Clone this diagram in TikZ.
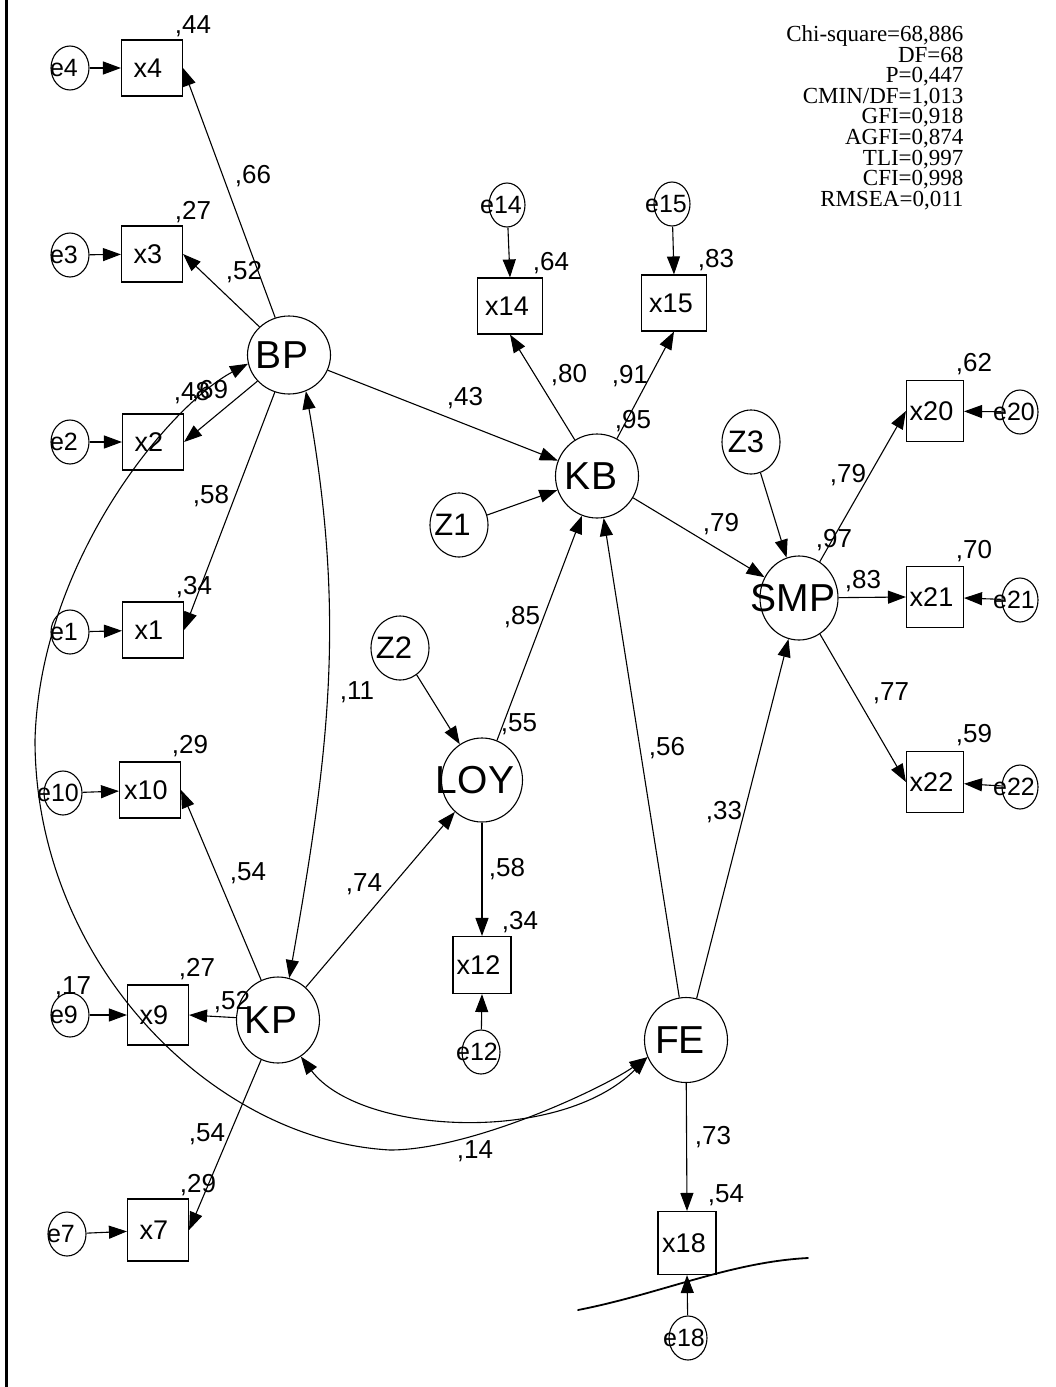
\documentclass[tikz,border=0pt]{standalone}
\usepackage{fontspec}
\setmainfont{Liberation Sans}
\newfontfamily\fitfont{Liberation Serif}
\usetikzlibrary{arrows.meta,shapes.geometric}

% centred label whose text sits #1/2 pt left of the node centre
\newcommand\ctext[2]{\makebox[0pt]{#2\kern#1pt}}

\begin{document}
\begin{tikzpicture}[x=1pt,y=-1pt,
  line width=1.1pt,
  >={Triangle[length=18pt,width=13pt]},
  obs/.style={draw,rectangle,inner sep=0pt,minimum width=61pt,minimum height=56pt,
    font=\fontsize{27}{27}\selectfont},
  lat/.style={draw,ellipse,inner sep=0pt,minimum width=83pt,minimum height=84pt,
    font=\fontsize{39}{39}\selectfont},
  dist/.style={draw,ellipse,inner sep=0pt,minimum width=58pt,minimum height=64pt,
    font=\fontsize{31}{31}\selectfont},
  err/.style={draw,ellipse,inner sep=0pt,minimum width=38pt,minimum height=44pt,
    font=\fontsize{25}{25}\selectfont},
  coef/.style={inner sep=0pt,text height=18.6pt,text depth=0pt,
    font=\fontsize{26}{26}\selectfont},
  causal/.style={->},
  corr/.style={<->},
]
\useasboundingbox (0,0) rectangle (1055,1387);

% frame line on the left
\draw[line width=2.6pt] (6.5,0) -- (6.5,1387);

% ---------- latent variables ----------
\node[lat,minimum height=78pt] (BP) at (289,355) {\ctext{14}{BP}};
\node[lat] (KB)  at (597,476)  {\ctext{12}{KB}};
\node[lat,minimum width=78pt] (SMP) at (799,598) {\ctext{12}{SMP}};
\node[lat,minimum width=81pt] (LOY) at (482,780) {\ctext{14}{LOY}};
\node[lat,minimum height=86pt] (KP)  at (278,1020) {\ctext{14}{KP}};
\node[lat,minimum height=85pt] (FE)  at (686,1040) {\ctext{12}{FE}};

% ---------- disturbances ----------
\node[dist] (Z1) at (459,525) {\ctext{13}{Z1}};
\node[dist] (Z2) at (400,648) {\ctext{12}{Z2}};
\node[dist] (Z3) at (751,442) {\ctext{10}{Z3}};

% ---------- indicators ----------
\node[obs] (x4)  at (152,68)   {\ctext{8}{x4}};
\node[obs] (x3)  at (152,254)  {\ctext{8}{x3}};
\node[obs] (x2)  at (153,442)  {\ctext{8}{x2}};
\node[obs] (x1)  at (153,630)  {\ctext{8}{x1}};
\node[obs] (x10) at (150,790)  {\ctext{8}{x10}};
\node[obs,minimum height=60pt] (x9) at (158,1015) {\ctext{8}{x9}};
\node[obs,minimum height=62pt] (x7) at (158,1230) {\ctext{8}{x7}};
\node[obs,minimum width=65pt] (x14) at (510,306) {\ctext{6}{x14}};
\node[obs,minimum width=65pt] (x15) at (674,303) {\ctext{6}{x15}};
\node[obs,minimum width=57pt,minimum height=61pt] (x20) at (935,411) {\ctext{7}{x20}};
\node[obs,minimum width=57pt,minimum height=61pt] (x21) at (935,597) {\ctext{7}{x21}};
\node[obs,minimum width=57pt,minimum height=61pt] (x22) at (935,782) {\ctext{7}{x22}};
\node[obs,minimum width=58pt,minimum height=57pt] (x12) at (482,965) {\ctext{7}{x12}};
\node[obs,minimum width=58pt,minimum height=63pt] (x18) at (687,1243) {\ctext{6}{x18}};

% ---------- error terms ----------
\node[err] (e4)  at (70,68)    {\ctext{12}{e4}};
\node[err] (e3)  at (70,255)   {\ctext{12}{e3}};
\node[err] (e2)  at (70,442)   {\ctext{12}{e2}};
\node[err] (e1)  at (70,632)   {\ctext{12}{e1}};
\node[err] (e10) at (63,793)   {\ctext{10}{e10}};
\node[err] (e9)  at (70,1015)  {\ctext{12}{e9}};
\node[err] (e7)  at (67,1234)  {\ctext{12}{e7}};
\node[err,minimum width=36pt] (e14) at (507,205) {\ctext{12}{e14}};
\node[err,minimum width=36pt] (e15) at (672,204) {\ctext{12}{e15}};
\node[err,minimum width=36pt] (e20) at (1020,412) {\ctext{12}{e20}};
\node[err,minimum width=36pt] (e21) at (1020,600) {\ctext{12}{e21}};
\node[err,minimum width=36pt] (e22) at (1020,787) {\ctext{12}{e22}};
\node[err] (e12) at (481,1052) {\ctext{8}{e12}};
\node[err] (e18) at (688,1338) {\ctext{8}{e18}};

% ---------- error paths ----------
\foreach \e/\x in {e4/x4,e3/x3,e2/x2,e1/x1,e10/x10,e9/x9,e7/x7,
                   e20/x20,e21/x21,e22/x22}
  \draw[causal] (\e) -- (\x);
\draw[causal] (e14) -- (x14.north);
\draw[causal] (e15) -- (x15.north);
\draw[causal] (e12) -- (x12.south);
\draw[causal] (e18) -- (x18.south);

% ---------- measurement paths ----------
\draw[causal] (BP) -- (x4.east);
\draw[causal] (BP) -- (x3.east);
\draw[causal] (BP) -- (x2.east);
\draw[causal] (BP) -- (x1.east);
\draw[causal] (KP) -- (x10.east);
\draw[causal] (KP) -- (x9.east);
\draw[causal] (KP) -- (x7.east);
\draw[causal] (KB) -- (x14.south);
\draw[causal] (KB) -- (x15.south);
\draw[causal] (SMP) -- (x20.west);
\draw[causal] (SMP) -- (x21.west);
\draw[causal] (SMP) -- (x22.west);
\draw[causal] (LOY) -- (x12.north);
\draw[causal] (FE) -- (x18.north);

% ---------- structural paths ----------
\draw[causal] (BP) -- (KB);
\draw[causal] (Z1) -- (KB);
\draw[causal] (LOY) -- (KB);
\draw[causal] (FE) -- (KB);
\draw[causal] (KB) -- (SMP);
\draw[causal] (Z3) -- (SMP);
\draw[causal] (FE) -- (SMP);
\draw[causal] (Z2) -- (LOY);
\draw[causal] (KP) -- (LOY);

% ---------- covariances ----------
\draw[corr] (BP.-65) to[out=-80,in=80] (KP.75);
\draw[corr] (KP.-58) .. controls (360,1135) and (560,1145) .. (FE.204);
\coordinate (arcL) at (35,740);
\coordinate (arcB) at (390,1150);
\draw[corr] (BP.192) .. controls (170,405) and (40,560) .. (arcL)
  .. controls (35,960) and (210,1140) .. (arcB)
  .. controls (470,1150) and (600,1090) .. (FE.204);

% ---------- estimates ----------
\node[coef] (r4)   at (193,24)   {,44};
\node[coef] (r3)   at (193,210)  {,27};
\node[coef] (w4)   at (253,174)  {,66};
\node[coef] (w3)   at (244,270)  {,52};
\node[coef] (r2)   at (192,391)  {,48};
\node[coef] (w2)   at (210,389)  {,69};
\node[coef] (w1)   at (211,494)  {,58};
\node[coef] (r1)   at (194,585)  {,34};
\node[coef] (cBK)  at (357,690)  {,11};
\node[coef] (r10)  at (190,744)  {,29};
\node[coef] (w10)  at (248,871)  {,54};
\node[coef] (r9)   at (197,967)  {,27};
\node[coef] (v9)   at (73,985)   {,17};
\node[coef] (w9)   at (232,1000) {,52};
\node[coef] (w7)   at (207,1132) {,54};
\node[coef] (r7)   at (198,1183) {,29};
\node[coef] (bKL)  at (364,882)  {,74};
\node[coef] (rLOY) at (519,722)  {,55};
\node[coef] (bLK)  at (522,615)  {,85};
\node[coef] (bFK)  at (667,746)  {,56};
\node[coef] (bFS)  at (724,810)  {,33};
\node[coef] (w12)  at (507,867)  {,58};
\node[coef] (r12)  at (520,920)  {,34};
\node[coef] (w18)  at (713,1135) {,73};
\node[coef] (r18)  at (726,1193) {,54};
\node[coef] (cBF)  at (475,1149) {,14};
\node[coef] (bBK)  at (465,396)  {,43};
\node[coef] (w14)  at (569,373)  {,80};
\node[coef] (w15)  at (630,374)  {,91};
\node[coef] (rKB)  at (633,419)  {,95};
\node[coef] (r14)  at (551,261)  {,64};
\node[coef] (r15)  at (716,258)  {,83};
\node[coef] (bKS)  at (721,522)  {,79};
\node[coef] (w20)  at (848,473)  {,79};
\node[coef] (rSMP) at (834,538)  {,97};
\node[coef] (w21)  at (863,579)  {,83};
\node[coef] (w22)  at (891,691)  {,77};
\node[coef] (r20)  at (974,362)  {,62};
\node[coef] (r21)  at (974,549)  {,70};
\node[coef] (r22)  at (974,733)  {,59};

% ---------- fit indices ----------
\node[anchor=north east,inner sep=0pt,align=right,
      font=\fitfont\fontsize{23}{20.6}\selectfont] (fit) at (964,25)
  {Chi-square=68,886\\DF=68\\P=0,447\\CMIN/DF=1,013\\GFI=0,918\\
   AGFI=0,874\\TLI=0,997\\CFI=0,998\\RMSEA=0,011};

% pen stroke across the x18 error path
\draw[line width=1.8pt,line cap=round]
  (578,1310) .. controls (660,1294) and (730,1262) .. (808,1258);
\end{tikzpicture}
\end{document}
